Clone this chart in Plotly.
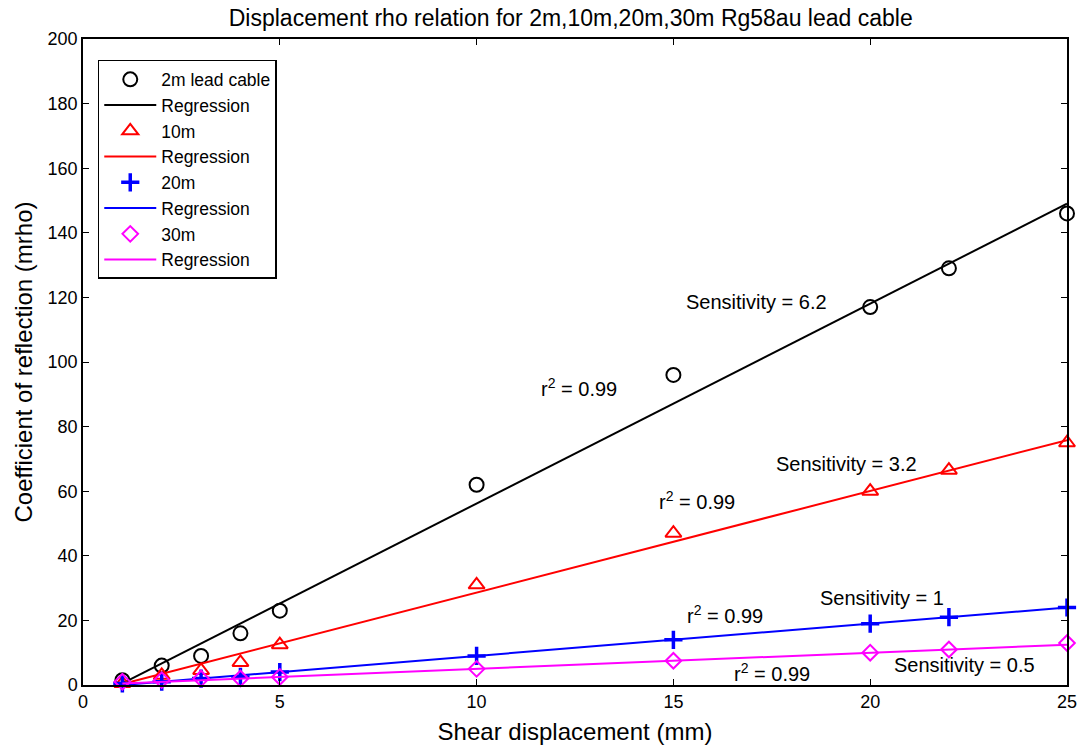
import plotly.graph_objects as go

x_vals = [1, 2, 3, 4, 5, 10, 15, 20, 22, 25]
y_2m = [1.5, 6, 9, 16, 23, 62, 96, 117, 129, 146]
y_10m = [0.5, 3, 4.5, 7, 12.5, 31, 47, 60, 66.5, 75]
y_20m = [0.5, 1, 2, 2.5, 4, 9, 14, 19, 21, 24]
y_30m = [1, 1.5, 2, 2, 2.5, 5, 7.5, 10, 11, 13]

reg_x = [1, 25]
reg_2m = [0.5, 149]
reg_10m = [0.3, 75.8]
reg_20m = [0.0, 24]
reg_30m = [0.5, 12.5]

series_names = ["2m lead cable", "10m", "20m", "30m"]
colors = ["black", "red", "blue", "magenta"]
symbols = ["circle-open", "triangle-up-open", "cross-thin-open", "diamond-open"]
sizes = [14, 14, 13, 12]

ann_text = ["Sensitivity = 6.2", "r<sup>2</sup> = 0.99", "Sensitivity = 3.2", "r<sup>2</sup> = 0.99",
            "Sensitivity = 1", "r<sup>2</sup> = 0.99", "Sensitivity = 0.5", "r<sup>2</sup> = 0.99"]
ann_x = [17.1, 12.6, 19.4, 15.6, 20.3, 16.3, 22.4, 17.5]
ann_y = [118.6, 92, 68.4, 57, 27, 21.7, 6.2, 4]

fig = go.Figure()
ys = [y_2m, y_10m, y_20m, y_30m]
regs = [reg_2m, reg_10m, reg_20m, reg_30m]
for i in range(4):
    fig.add_trace(go.Scatter(
        x=x_vals, y=ys[i], mode="markers", name=series_names[i],
        marker=dict(symbol=symbols[i], size=sizes[i], color=colors[i],
                    line=dict(width=3.5 if i == 2 else 2, color=colors[i])),
        cliponaxis=False))
    fig.add_trace(go.Scatter(
        x=reg_x, y=regs[i], mode="lines", name="Regression",
        line=dict(color=colors[i], width=2)))

for t, ax, ay in zip(ann_text, ann_x, ann_y):
    fig.add_annotation(x=ax, y=ay, text=t, showarrow=False,
                       font=dict(size=20, color="black", family="Liberation Sans, Arial"))

fig.update_layout(
    width=1083, height=751,
    paper_bgcolor="white", plot_bgcolor="white",
    margin=dict(l=83, r=16, t=39, b=66, autoexpand=False),
    font=dict(family="Liberation Sans, Arial", size=18, color="black"),
    title=dict(text="Displacement rho relation for 2m,10m,20m,30m Rg58au lead cable",
               x=0.527, xanchor="center", y=0.976, yanchor="middle",
               font=dict(size=23)),
    showlegend=True,
    legend=dict(x=0.015, y=0.9675, xanchor="left", yanchor="top",
                bgcolor="white", bordercolor="black", borderwidth=1.5,
                font=dict(size=17.5), tracegroupgap=0, itemwidth=52),
    xaxis=dict(range=[0, 25], tickvals=[0, 5, 10, 15, 20, 25], automargin=False,
               showline=True, linecolor="black", linewidth=1.5, mirror="ticks",
               ticks="inside", ticklen=6, tickcolor="black", showgrid=False, zeroline=False,
               tickfont=dict(size=18),
               title=dict(text="Shear displacement (mm)", font=dict(size=24), standoff=12)),
    yaxis=dict(range=[0, 200], tickvals=list(range(0, 201, 20)), automargin=False,
               showline=True, linecolor="black", linewidth=1.5, mirror="ticks",
               ticks="inside", ticklen=6, tickcolor="black", showgrid=False, zeroline=False,
               tickfont=dict(size=18),
               title=dict(text="Coefficient of reflection (mrho)", font=dict(size=24), standoff=8)),
)

fig.write_html("out.html")
